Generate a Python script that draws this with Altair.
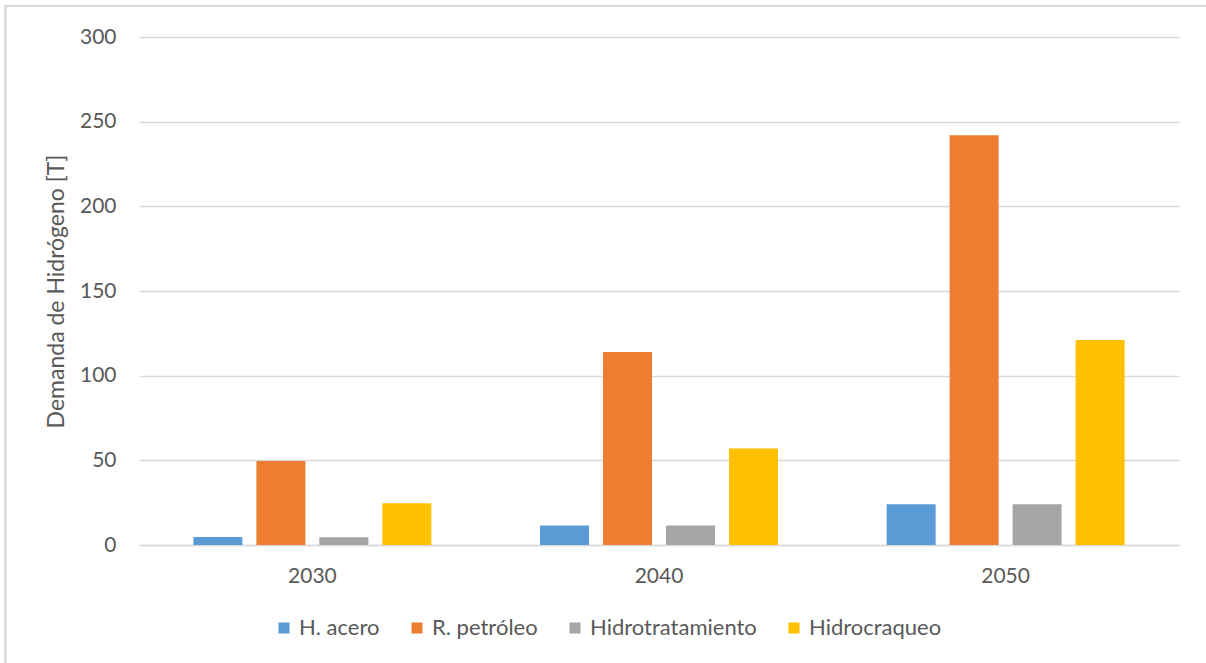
import altair as alt
import pandas as pd

# Hydrogen demand by end use, per decade
years = ["2030", "2040", "2050"]
series = ["H. acero", "R. petróleo", "Hidrotratamiento", "Hidrocraqueo"]
h_acero = [4.7, 11.5, 24.0]
r_petroleo = [49.6, 114.0, 242.0]
hidrotratamiento = [4.6, 11.5, 24.0]
hidrocraqueo = [24.7, 57.0, 121.0]
colors = ["#5B9BD5", "#ED7D31", "#A5A5A5", "#FFC000"]
y_ticks = [0, 50, 100, 150, 200, 250, 300]

rows = []
for name, vals in zip(series, [h_acero, r_petroleo, hidrotratamiento, hidrocraqueo]):
    for yr, v in zip(years, vals):
        rows.append({"Año": yr, "Serie": name, "Valor": v})
df = pd.DataFrame(rows)

FONT = "Lato"
TXT = "#595959"
GRID = "#D9D9D9"

bars = alt.Chart(df).mark_bar().encode(
    x=alt.X("Año:N", sort=years, title=None,
            scale=alt.Scale(paddingInner=0.3135, paddingOuter=0.157),
            axis=alt.Axis(labelAngle=0, labelFont=FONT, labelFontSize=21,
                          labelColor=TXT, labelPadding=20, ticks=False,
                          domainColor=GRID, domainWidth=1.5)),
    xOffset=alt.XOffset("Serie:N", sort=series,
                        scale=alt.Scale(paddingInner=0.222, paddingOuter=0)),
    y=alt.Y("Valor:Q", title="Demanda de Hidrógeno [T]",
            scale=alt.Scale(domain=[0, 300], nice=False),
            axis=alt.Axis(values=y_ticks, labelFont=FONT, labelFontSize=21,
                          labelColor=TXT, labelPadding=23, ticks=False,
                          domain=False, grid=True, gridColor=GRID,
                          gridWidth=1.3, titleFont=FONT, titleFontSize=23,
                          titleColor=TXT, titleFontWeight="normal",
                          titlePadding=11)),
    color=alt.Color("Serie:N", sort=series,
                    scale=alt.Scale(domain=series, range=colors),
                    legend=alt.Legend(title=None, orient="none",
                                      direction="horizontal",
                                      legendX=134, legendY=580,
                                      symbolType="square", symbolSize=121,
                                      symbolStrokeWidth=0,
                                      labelFont=FONT, labelFontSize=22,
                                      labelColor=TXT, labelOffset=4,
                                      labelLimit=400, columnPadding=26)),
)

# light outer frame (left and top edges show; the rest runs off the canvas)
frame = alt.Chart(df).mark_rect(fill=None, stroke=GRID, strokeWidth=1.3).encode(
    x=alt.value(-133.5), x2=alt.value(1300), y=alt.value(-31), y2=alt.value(700)
)

chart = alt.layer(bars, frame).properties(
    width=1040, height=508,
    autosize=alt.AutoSizeParams(type="none"),
    padding={"left": 139, "top": 37, "right": 27, "bottom": 118},
    background="white",
).configure_view(stroke=None)

chart.save("out.html", embed_options={"renderer": "svg", "actions": False})
